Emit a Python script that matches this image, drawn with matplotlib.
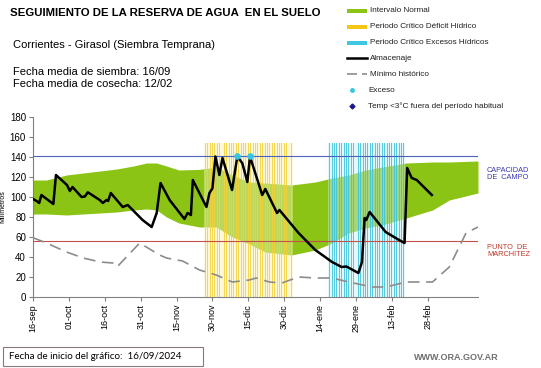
import numpy as np
import matplotlib
matplotlib.use("Agg")
import matplotlib.pyplot as plt
from matplotlib.patches import Rectangle
from matplotlib.lines import Line2D

plt.rcParams["font.family"] = ["Liberation Sans", "DejaVu Sans"]

# days counted from 16-sep-2024
tick_days = [0, 15, 30, 45, 60, 75, 90, 105, 120, 135, 150, 165]
tick_labels = ["16-sep", "01-oct", "16-oct", "31-oct", "15-nov", "30-nov",
               "15-dic", "30-dic", "14-ene", "29-ene", "13-feb", "28-feb"]

# normal interval (green band)
band_days = [0, 5.6, 14, 28, 35, 42, 47.5, 51.7, 55.8, 61, 69.6, 76.6, 83.3,
             90.4, 97, 108, 118, 125, 132, 139, 146, 156, 167, 174, 186]
band_upper = [117, 117, 122, 126, 128, 131, 134, 134, 131, 127, 127.6, 130, 122,
              115, 114, 112, 115, 119, 122, 127, 130, 134, 135, 135, 136]
band_lower = [83, 83, 82, 84, 85, 87, 88, 87, 80, 74, 70, 70, 60,
              53, 45, 42, 47, 54, 64, 69, 72, 79, 87, 97, 104]

# historical minimum
min_days = [0, 5.6, 14, 21, 28, 35, 35.5, 44.6, 52.9, 55.8, 62.5, 69.6, 76.6,
            83.3, 90.4, 93.3, 98.8, 104, 111, 118, 125, 132, 141.7, 147.5,
            156, 167, 174, 181, 186]
min_vals = [59.3, 54, 45, 39, 35, 33.7, 31, 54, 42, 39, 36, 27, 22,
            15, 17, 19, 15, 14, 20, 19, 19, 15, 10, 10,
            15, 15, 30, 64, 70]

# stored water (almacenaje)
alm_days = [0, 1.5, 2.6, 3.5, 8.5, 9.6, 14.2, 15.4, 16.5, 20.3, 21.7, 22.9, 27.9,
            29.2, 30.7, 31.4, 32.5, 37.5, 39.6, 45.8, 49.6, 51.7, 53.3, 57.1,
            63.3, 64.6, 66, 66.8, 72.5, 73.75, 75, 76.25, 77.9, 79.2, 83.2,
            85.4, 87.5, 89.6, 90.7, 95.8, 97.1, 102, 103, 111, 118, 125, 129,
            131, 136, 137.5, 138.6, 139.3, 140.7, 147.4, 153, 155.3, 156.4,
            158.3, 160.4, 166.7]
alm_vals = [98, 96, 94, 102, 93, 122, 112, 106, 110, 100, 100.5, 104.7, 97,
            94, 97, 96, 104, 90, 92, 77, 70, 84, 114, 97,
            78, 84, 82, 117, 90, 104, 108.7, 140.5, 122, 139, 107,
            140.5, 133.7, 115, 140.5, 102, 108, 84, 87, 64, 47, 35, 30,
            30.5, 24, 35, 79, 77, 85, 65, 57, 54, 129,
            119, 117, 102]

exceso_days = [85.4, 90.7]
exceso_vals = [141, 141]

deficit_days = np.arange(72, 109)
excesos_days = np.arange(124, 156)
period_top = 154

capacidad_campo = 141
punto_marchitez = 56

fig = plt.figure(figsize=(5.41, 3.68), dpi=100)
W, H = 541, 368
def fx(x): return x / W
def fy(y): return 1 - y / H

ax = fig.add_axes([fx(33), fy(297), fx(478) - fx(33), fy(117) - fy(297)])

green = "#8cc415"
ax.fill_between(band_days, band_lower, band_upper, color=green, lw=0, zorder=1)

# critical periods, drawn as daily stripes
ax.bar(deficit_days, period_top, width=1.0, color="#fbefb0", alpha=0.45, lw=0, zorder=2)
ax.bar(deficit_days, period_top, width=0.4, color="#f3d33c", alpha=0.85, lw=0, zorder=2)
ax.bar(excesos_days, period_top, width=1.0, color="#c4eef6", alpha=0.45, lw=0, zorder=2)
ax.bar(excesos_days, period_top, width=0.4, color="#3ec3dc", alpha=0.85, lw=0, zorder=2)

ax.plot([0, 186], [capacidad_campo] * 2, color="#4a62b8", lw=0.8, zorder=3)
ax.plot([0, 186], [punto_marchitez] * 2, color="#c4504a", lw=0.8, zorder=3)

ax.plot(min_days, min_vals, color="#8c8c8c", lw=1.2, dashes=(7, 4), zorder=3)
ax.plot(alm_days, alm_vals, color="black", lw=1.8, zorder=4)
ax.scatter(exceso_days, exceso_vals, s=14, color="#36c6e0", zorder=5)

ax.set_xlim(0, 186)
ax.set_ylim(0, 180)
ax.set_yticks(range(0, 181, 20))
ax.set_xticks(tick_days)
ax.set_xticklabels(tick_labels, rotation=90)
ax.tick_params(axis="x", labelsize=6.5, length=3, color="#808080", pad=2)
ax.tick_params(axis="y", labelsize=7, length=3, color="#808080", pad=2)
for s in ["top", "right"]:
    ax.spines[s].set_visible(False)
for s in ["left", "bottom"]:
    ax.spines[s].set_color("#808080")
    ax.spines[s].set_linewidth(0.8)
ax.set_ylabel("Milímetros", fontsize=5)
ax.yaxis.set_label_coords(-0.06, 0.5)

# headings
fig.text(fx(10), fy(13), "SEGUIMIENTO DE LA RESERVA DE AGUA  EN EL SUELO",
         fontsize=8.2, weight="bold", va="center")
fig.text(fx(13), fy(45), "Corrientes - Girasol (Siembra Temprana)", fontsize=8, va="center")
fig.text(fx(13), fy(72), "Fecha media de siembra: 16/09", fontsize=8, va="center")
fig.text(fx(13), fy(84), "Fecha media de cosecha: 12/02", fontsize=8, va="center")

# legend
leg_rows = [11, 27, 43, 58, 74, 90, 106]
leg_text = ["Intervalo Normal", "Periodo Crítico Déficit Hídrico",
            "Periodo Crítico Excesos Hídricos", "Almacenaje", "Mínimo histórico",
            "Exceso", "Temp <3°C fuera del período habitual"]
for y, c in zip(leg_rows[:3], [green, "#f5c518", "#3ec8e0"]):
    fig.add_artist(Rectangle((fx(347), fy(y + 2)), fx(20), 4 / H, color=c, lw=0))
fig.add_artist(Line2D([fx(347), fx(367)], [fy(58)] * 2, color="black", lw=1.8))
fig.add_artist(Line2D([fx(347), fx(367)], [fy(74)] * 2, color="#8c8c8c", lw=1.2, dashes=(6, 3)))
fig.add_artist(Line2D([fx(352)], [fy(90)], marker="o", ms=2.5, color="#36c6e0", lw=0))
fig.add_artist(Line2D([fx(352)], [fy(106)], marker="D", ms=2.5, color="#1a1a8c", lw=0))
for y, t in zip(leg_rows, leg_text):
    tx = 370 if y < 85 else 368
    fig.text(fx(tx), fy(y), t, fontsize=5.9, va="center", color="#202020")

# reference line labels
fig.text(fx(487), fy(174), "CAPACIDAD\nDE  CAMPO", fontsize=5.3, color="#3a3ab4",
         va="center", linespacing=1.1)
fig.text(fx(487), fy(251), "PUNTO  DE\nMARCHITEZ", fontsize=5.3, color="#c0392b",
         va="center", linespacing=1.1)

# footer
fig.add_artist(Rectangle((fx(3), fy(366)), fx(200), 19 / H, fill=False,
                         edgecolor="#8a7878", lw=0.8))
fig.text(fx(9), fy(356.5), "Fecha de inicio del gráfico:  16/09/2024", fontsize=7,
         family=["Lato", "DejaVu Sans"], va="center")
fig.text(fx(499), fy(358), "WWW.ORA.GOV.AR", fontsize=6.5, color="#707070",
         weight="bold", ha="right", va="center")

fig.savefig("out.png", dpi=100)
